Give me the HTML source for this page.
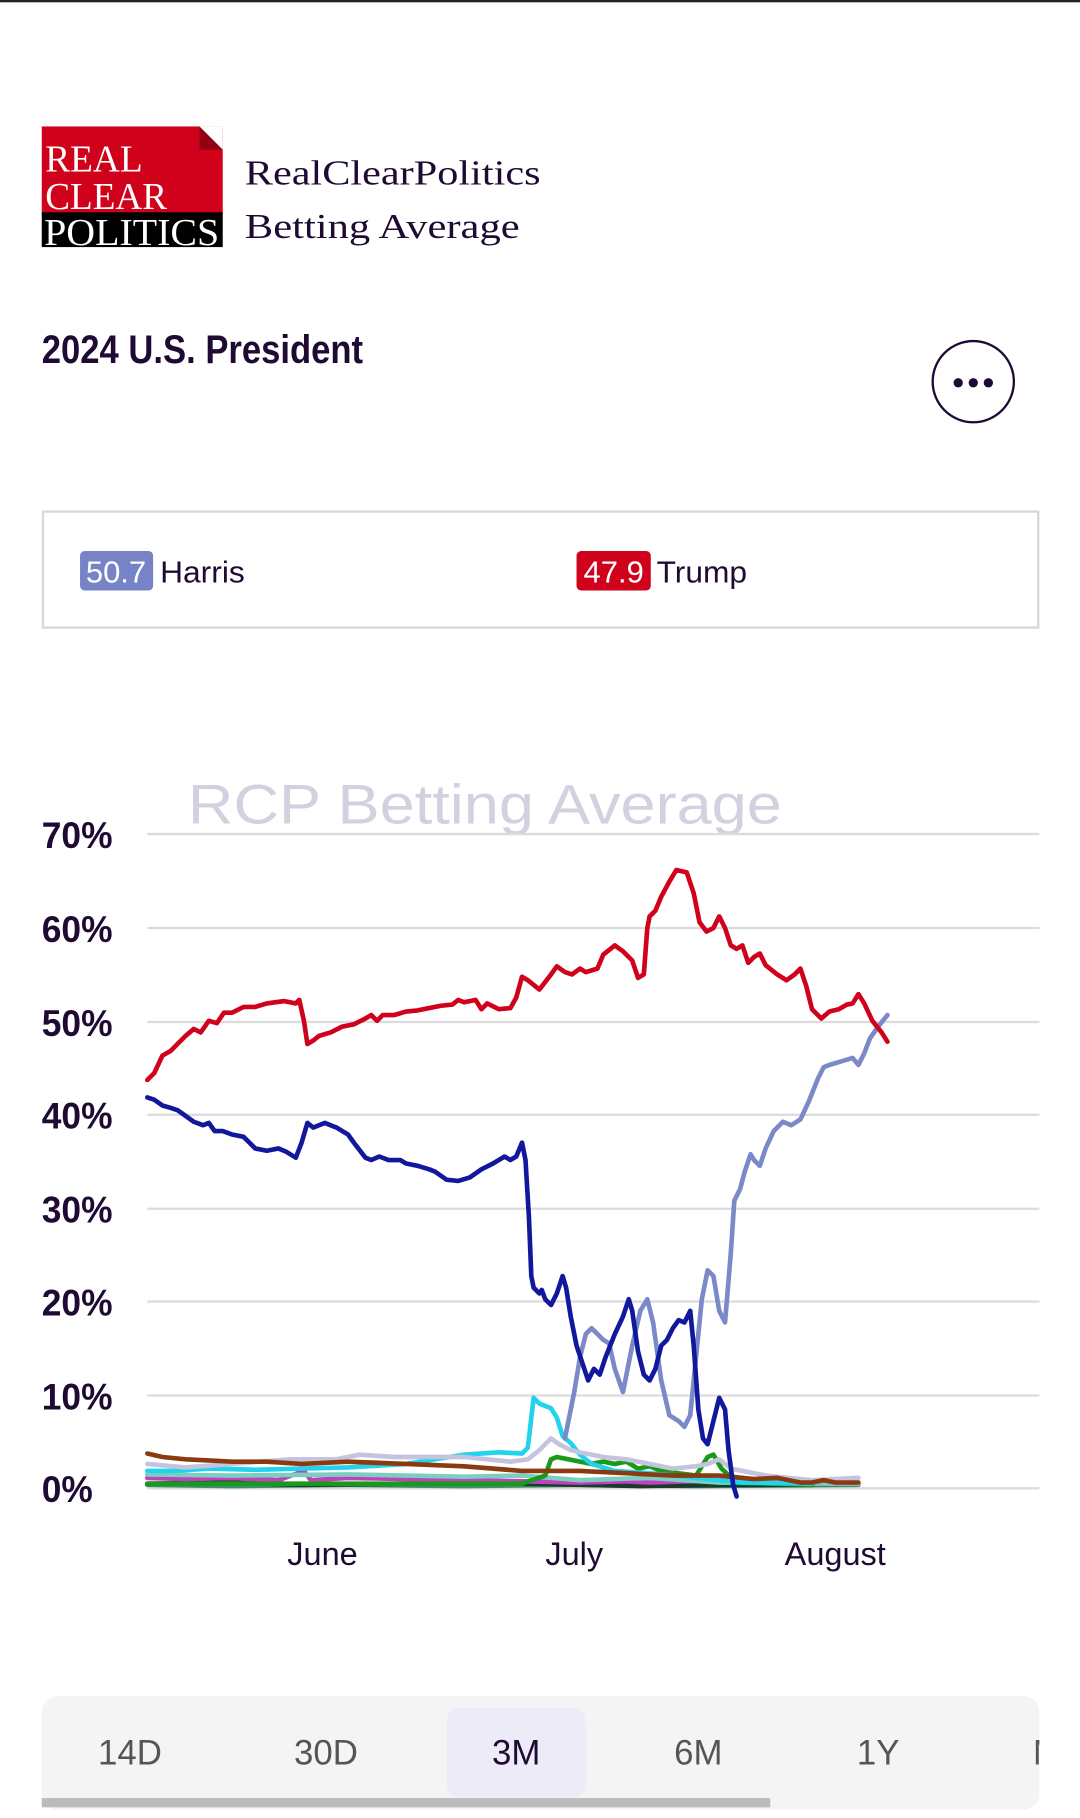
<!DOCTYPE html>
<html><head><meta charset="utf-8"><style>html,body{margin:0;padding:0;background:#fff;width:1080px;height:1818px;overflow:hidden}svg{display:block}</style></head>
<body>
<svg width="1080" height="1818" viewBox="0 0 931 1567.2" xmlns="http://www.w3.org/2000/svg" font-family="Liberation Sans, sans-serif">
<rect x="0" y="0" width="931" height="2" fill="#222"/>
<!-- logo -->
<rect x="36" y="109" width="156" height="76" fill="#d0021b"/>
<rect x="36" y="183" width="156" height="30" fill="#000"/>
<polygon points="172,109 192,129 172,129" fill="#8f0010"/>
<polygon points="172,109 192,109 192,129" fill="#fff"/>
<g font-family="Liberation Serif, serif" fill="#fff" font-size="33">
<text x="39" y="148" textLength="84" lengthAdjust="spacingAndGlyphs">REAL</text>
<text x="39" y="180" textLength="105" lengthAdjust="spacingAndGlyphs">CLEAR</text>
<text x="38" y="211" textLength="151" lengthAdjust="spacingAndGlyphs">POLITICS</text>
</g>
<g font-family="Liberation Serif, serif" fill="#1f0a33" font-size="30">
<text x="211" y="159" textLength="255" lengthAdjust="spacingAndGlyphs">RealClearPolitics</text>
<text x="211" y="205" textLength="237" lengthAdjust="spacingAndGlyphs">Betting Average</text>
</g>
<text x="36" y="313" font-size="34" font-weight="bold" fill="#1f0a33" textLength="277" lengthAdjust="spacingAndGlyphs">2024 U.S. President</text>
<circle cx="839" cy="329" r="35" fill="none" stroke="#1f0a33" stroke-width="2"/>
<circle cx="826" cy="330" r="4" fill="#1f0a33"/><circle cx="839" cy="330" r="4" fill="#1f0a33"/><circle cx="852" cy="330" r="4" fill="#1f0a33"/>
<!-- legend box -->
<rect x="37" y="441" width="858" height="100" fill="none" stroke="#d8d8d8" stroke-width="2"/>
<rect x="69" y="475" width="63" height="34" rx="4" fill="#7683c7"/>
<text x="100" y="502" font-size="26" fill="#fff" text-anchor="middle" textLength="52" lengthAdjust="spacingAndGlyphs">50.7</text>
<text x="138" y="502" font-size="26" fill="#1f0a33" textLength="73" lengthAdjust="spacingAndGlyphs">Harris</text>
<rect x="497" y="475" width="64" height="34" rx="4" fill="#d0021b"/>
<text x="529" y="502" font-size="26" fill="#fff" text-anchor="middle" textLength="52" lengthAdjust="spacingAndGlyphs">47.9</text>
<text x="566" y="502" font-size="26" fill="#1f0a33" textLength="78" lengthAdjust="spacingAndGlyphs">Trump</text>
<!-- chart -->
<text x="162" y="710" font-size="48" fill="#d3d1e0" textLength="512" lengthAdjust="spacingAndGlyphs">RCP Betting Average</text>
<g stroke="#dcdcdc" stroke-width="2">
<line x1="127" y1="719" x2="896" y2="719"/><line x1="127" y1="800" x2="896" y2="800"/>
<line x1="127" y1="881" x2="896" y2="881"/><line x1="127" y1="961" x2="896" y2="961"/>
<line x1="127" y1="1042" x2="896" y2="1042"/><line x1="127" y1="1122" x2="896" y2="1122"/>
<line x1="127" y1="1203" x2="896" y2="1203"/><line x1="127" y1="1283" x2="896" y2="1283"/>
</g>
<g font-size="32" font-weight="bold" fill="#1f0a33" text-anchor="end">
<text x="97" y="731" textLength="61" lengthAdjust="spacingAndGlyphs">70%</text>
<text x="97" y="812" textLength="61" lengthAdjust="spacingAndGlyphs">60%</text>
<text x="97" y="893" textLength="61" lengthAdjust="spacingAndGlyphs">50%</text>
<text x="97" y="973" textLength="61" lengthAdjust="spacingAndGlyphs">40%</text>
<text x="97" y="1054" textLength="61" lengthAdjust="spacingAndGlyphs">30%</text>
<text x="97" y="1134" textLength="61" lengthAdjust="spacingAndGlyphs">20%</text>
<text x="97" y="1215" textLength="61" lengthAdjust="spacingAndGlyphs">10%</text>
<text x="80" y="1295" textLength="44" lengthAdjust="spacingAndGlyphs">0%</text>
</g>
<g font-size="28" fill="#1f0a33" text-anchor="middle">
<text x="278" y="1349">June</text><text x="495" y="1349">July</text><text x="720" y="1349">August</text>
</g>
<g fill="none" stroke-width="4" stroke-linejoin="round" stroke-linecap="round">
<polyline stroke="#3a8f6a" points="127,1280 200,1281 300,1280 400,1281 500,1280 600,1281 740,1280"/>
<polyline stroke="#1a3a2a" points="127,1279 200,1278 260,1280 350,1279 450,1279 550,1281 640,1280 700,1280"/>
<polyline stroke="#c040c0" points="127,1274 160,1275 200,1274 240,1276 262,1268 268,1276 300,1274 350,1275 400,1276 450,1277 500,1278 540,1277 560,1278 620,1276 700,1279 740,1279"/>
<polyline stroke="#7ccfc0" points="127,1271 200,1272 300,1271 400,1273 450,1272 500,1276 560,1274 620,1278 740,1279"/>
<polyline stroke="#1a9a1a" points="127,1279 450,1279 470,1272 475,1258 480,1256 490,1258 500,1260 510,1262 520,1260 530,1262 540,1260 550,1266 560,1264 570,1268 585,1270 600,1272 610,1256 615,1254 622,1266 635,1278 700,1280"/>
<polyline stroke="#22d3ee" points="127,1268 150,1268 180,1266 220,1267 260,1266 300,1265 350,1262 400,1254 430,1252 450,1253 455,1248 460,1205 465,1210 475,1214 480,1222 485,1238 492,1244 500,1254 510,1262 530,1268 560,1270 600,1274 640,1278 700,1279"/>
<polyline stroke="#c4c4de" points="127,1262 160,1265 200,1262 250,1258 290,1258 310,1254 340,1256 400,1256 440,1260 455,1258 465,1250 475,1240 482,1245 492,1250 500,1252 520,1256 540,1258 560,1262 580,1266 600,1264 610,1262 620,1258 630,1266 640,1268 660,1272 680,1274 700,1276 740,1274"/>
<polyline stroke="#8b3a0f" points="127,1253 140,1256 160,1258 180,1259 200,1260 230,1260 260,1262 300,1260 350,1262 400,1264 450,1268 500,1268 540,1270 580,1272 620,1272 650,1275 670,1274 690,1278 700,1278 710,1276 720,1278 740,1278"/>
<polyline stroke="#7b89c8" points="487,1240 492,1215 495,1200 500,1170 505,1150 510,1145 515,1150 520,1155 525,1158 530,1180 537,1200 545,1160 552,1130 558,1120 563,1140 570,1190 577,1220 585,1225 590,1230 595,1220 600,1170 605,1120 610,1095 615,1100 620,1130 625,1140 630,1080 633,1035 638,1025 642,1010 647,995 650,1000 655,1005 660,990 667,975 675,967 682,970 690,965 697,950 705,930 710,920 715,918 725,915 735,912 740,918 745,908 750,895 757,885 765,875"/>
<polyline stroke="#11189c" points="127,946 133,948 140,953 147,955 153,957 160,962 167,967 175,970 180,968 185,975 192,975 200,978 210,980 215,985 220,990 230,992 240,990 247,993 255,998 260,985 265,968 270,972 275,970 280,968 290,972 300,978 305,985 315,998 320,1000 327,997 335,1000 345,1000 350,1003 360,1005 370,1008 375,1010 385,1017 395,1018 405,1015 415,1008 425,1003 435,997 440,1000 445,997 450,985 453,1000 456,1050 458,1100 460,1110 465,1115 467,1112 470,1120 475,1125 480,1115 485,1100 488,1110 492,1135 497,1160 502,1175 507,1190 512,1180 517,1185 522,1170 530,1150 537,1135 542,1120 545,1130 550,1165 555,1185 560,1190 565,1180 570,1160 575,1155 580,1145 585,1138 590,1140 595,1130 598,1160 602,1215 606,1240 610,1245 615,1225 620,1205 625,1215 628,1250 632,1280 635,1290"/>
<polyline stroke="#d0021b" points="127,931 133,925 140,910 147,906 153,900 160,893 167,887 173,890 180,880 187,882 193,873 200,873 210,868 220,868 230,865 245,863 255,865 258,862 262,880 265,900 270,897 275,893 285,890 295,885 305,883 315,878 320,875 325,880 330,875 340,875 350,872 360,871 370,869 380,867 390,866 395,862 400,864 410,862 415,870 420,865 430,870 440,869 445,860 450,842 455,845 465,853 475,840 480,833 487,838 493,840 500,835 505,838 515,835 520,823 530,815 537,820 545,828 550,843 555,840 558,800 560,790 565,785 570,773 577,760 583,750 592,752 598,770 603,795 609,803 615,800 620,790 625,800 630,815 635,818 640,815 645,830 650,825 655,822 660,832 670,840 678,845 685,840 690,835 695,850 700,870 708,878 715,872 723,870 730,866 735,865 740,857 745,865 752,880 760,890 765,898"/>
</g>
<!-- tabs -->
<rect x="36" y="1462" width="860" height="98" rx="14" fill="#f4f4f4"/>
<rect x="385" y="1472" width="120" height="78" rx="12" fill="#eeebf8"/>
<g font-size="30" fill="#555" text-anchor="middle">
<text x="112" y="1521">14D</text><text x="281" y="1521">30D</text>
<text x="445" y="1521" fill="#1f0a33">3M</text>
<text x="602" y="1521">6M</text><text x="757" y="1521">1Y</text>
<text x="903" y="1521">M</text>
</g>
<rect x="896" y="1470" width="35" height="90" fill="#fff"/>
<rect x="36" y="1550" width="628" height="8" fill="#bbb"/>
</svg>
</body></html>
